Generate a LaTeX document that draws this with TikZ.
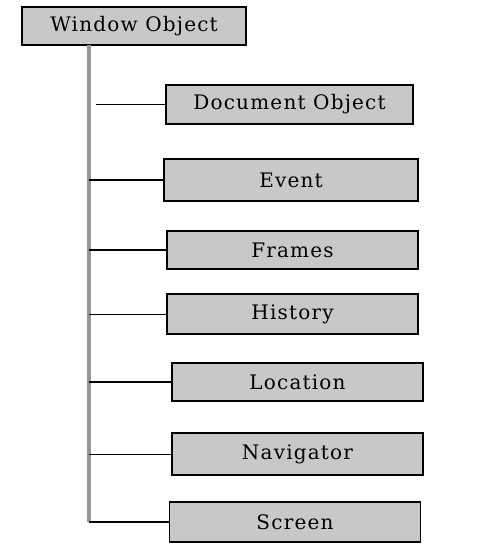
\documentclass[tikz,border=0pt]{standalone}
\usepackage{fontspec}
\setmainfont{DejaVu Serif}
\newfontfamily\boxfont[LetterSpace=6]{DejaVu Serif}
\usepackage{xcolor}
\usepackage{tikz}
\usetikzlibrary{positioning}

\definecolor{boxgray}{RGB}{200,199,202}
\definecolor{bargray}{RGB}{150,150,150}

\begin{document}
\begin{tikzpicture}[
  x=1pt, y=-1pt,
  box/.style={rectangle, draw, line width=1.6pt, fill=boxgray, minimum width=251pt, minimum height=40pt, inner sep=0pt, outer sep=0pt, font=\boxfont\fontsize{20}{24}\selectfont},
  branch/.style={line width=1.8pt},
  thinbranch/.style={line width=0.8pt}
]
  \useasboundingbox (0,0) rectangle (502,555);
  \node[box, minimum width=224pt, minimum height=38pt] (window) at (134,26) {Window Object};
  \coordinate (bartop) at (89,45);
  \coordinate (barend) at (89,522);
  \node[box, minimum width=247pt, minimum height=39pt] (document) at (289.5,104.5) {Document Object};
  \node[box, minimum width=254pt, minimum height=42pt, below=35pt of document, xshift=1.5pt] (event) {Event};
  \node[box, minimum height=38pt, below=30pt of event, xshift=1.5pt] (frames) {Frames};
  \node[box, below=25pt of frames] (history) {History};
  \node[box, minimum height=38pt, below=29pt of history, xshift=5pt] (location) {Location};
  \node[box, minimum height=42pt, below=32pt of location] (navigator) {Navigator};
  \node[box, below=27pt of navigator, xshift=-2.5pt] (screen) {Screen};
  % gray trunk under the window box
  \draw[bargray, line width=3.5pt] (bartop) -- (barend);
  \draw[branch] ([xshift=7pt]bartop |- document.west) -- (document.west);
  \draw[branch] (bartop |- event.west) -- (event.west);
  \draw[branch] (bartop |- frames.west) -- (frames.west);
  \draw[thinbranch] (bartop |- history.west) -- (history.west);
  \draw[line width=1.3pt] (bartop |- location.west) -- (location.west);
  \draw[thinbranch] (bartop |- navigator.west) -- (navigator.west);
  \draw[branch] (barend |- screen.west) -- (screen.west);
\end{tikzpicture}
\end{document}
